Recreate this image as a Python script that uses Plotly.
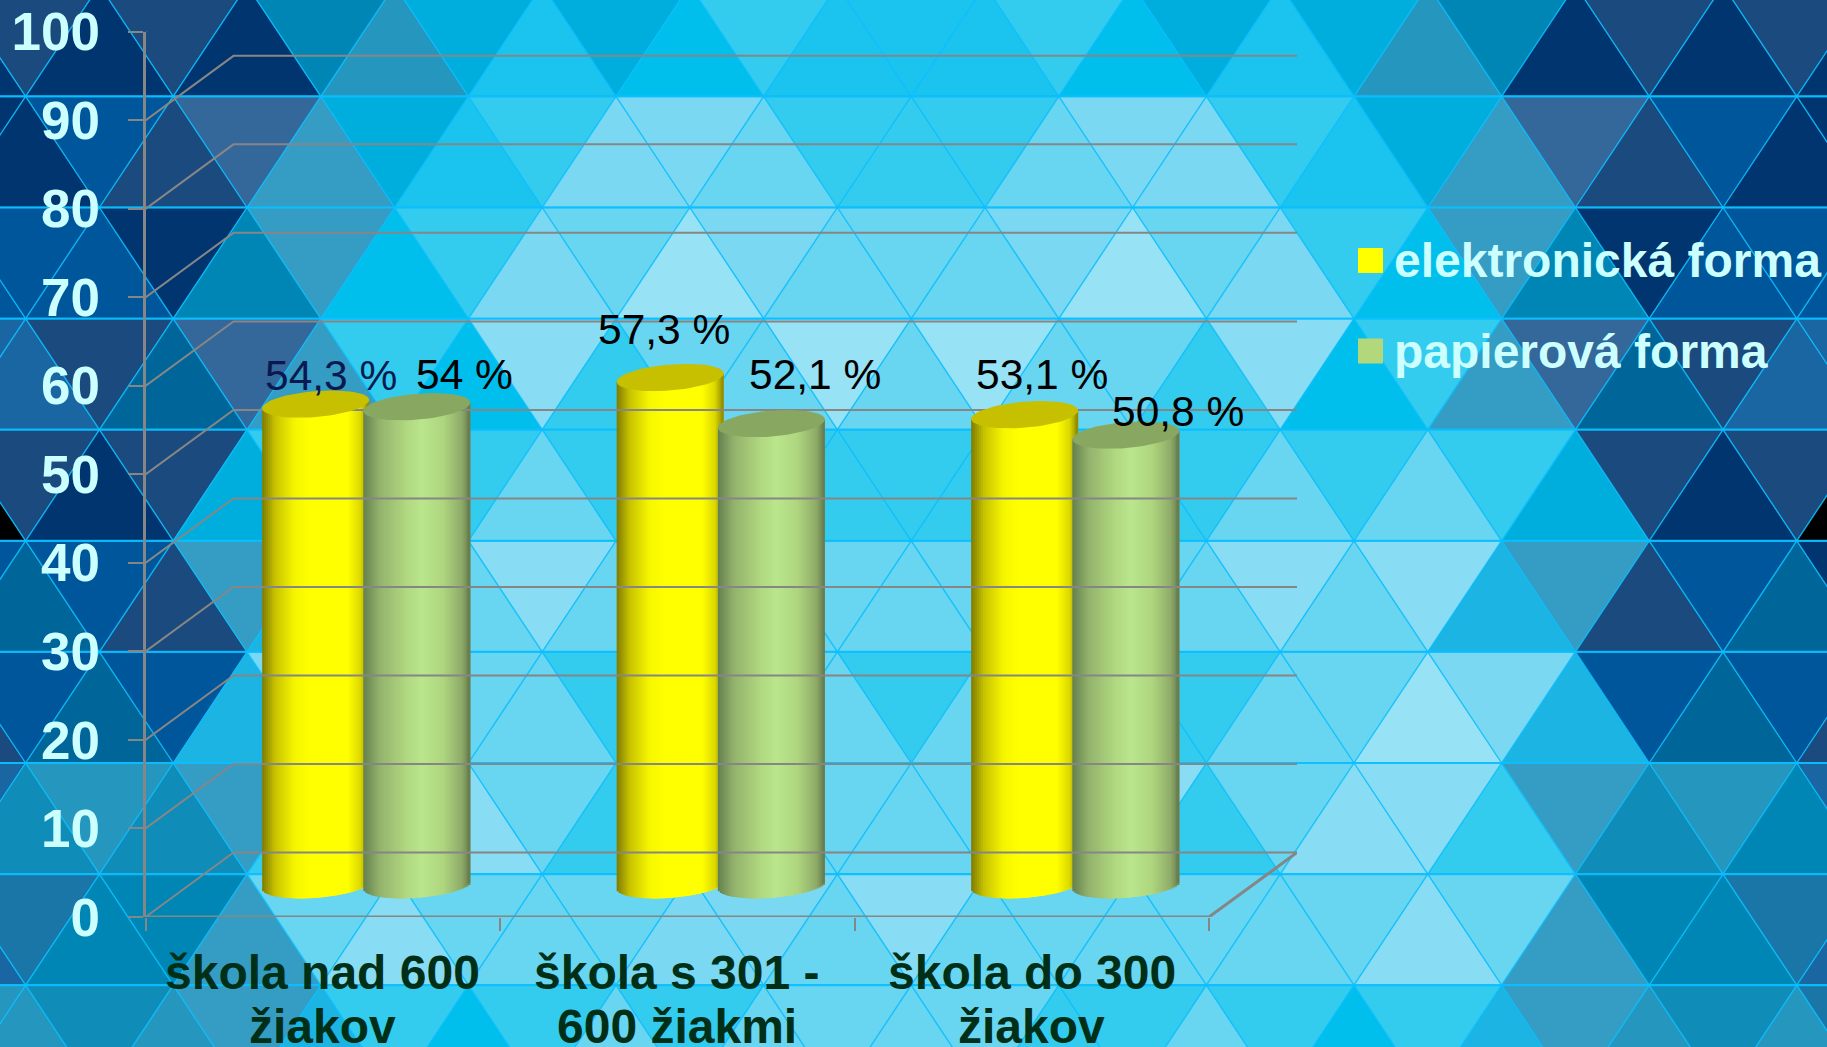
import plotly.graph_objects as go
import math

W, H = 1827, 1047

# ---------- data ----------
categories = ["škola nad 600 žiakov", "škola s 301 - 600 žiakmi", "škola do 300 žiakov"]
category_lines = [["škola nad 600", "žiakov"], ["škola s 301 -", "600 žiakmi"], ["škola do 300", "žiakov"]]
series_names = ["elektronická forma", "papierová forma"]
elektronicka = [54.3, 57.3, 53.1]
papierova = [54.0, 52.1, 50.8]
elektronicka_labels = ["54,3 %", "57,3 %", "53,1 %"]
papierova_labels = ["54 %", "52,1 %", "50,8 %"]
y_ticks = [0, 10, 20, 30, 40, 50, 60, 70, 80, 90, 100]

# hand-placed label offsets (px) from category centre / value position
elektronicka_shift_x = [8, -13, 10]
elektronicka_shift_y = [61, 80, 72]
papierova_shift_x = [142, 138, 146]
papierova_shift_y = [64, 81, 56]
elektronicka_label_colors = ["#0a1a50", "#000000", "#000000"]
papierova_label_colors = ["#000000", "#000000", "#000000"]

# ---------- background mosaic (one letter per triangle, one string per band) ----------
palette = {
    "a": "#00356f", "b": "#1b4a7e", "c": "#00569a", "d": "#34679a", "e": "#006699",
    "f": "#0086b5", "F": "#0f8cb8", "g": "#1a66a3", "h": "#359cc3", "i": "#2597bf",
    "j": "#00aedd", "q": "#1cb4e2", "k": "#1ac4ee", "l": "#00bfec", "m": "#33ccee",
    "n": "#68d5f1", "O": "#7ad8f3", "o": "#88dcf3", "p": "#98e2f6", "s": "#000000",
    "t": "#1a76a6",
}
mosaic = [
    "ababafijkjlmkkkmljkjifababa",
    "aacbdhjkmOOnmmmnOOmkjhdbcaa",
    "cccafhlmOnpOnnnOpnOmlhfaccc",
    "ggbedhmlomnnpnpnnmolmhdebgg",
    "sbabjmnmnmmmmmmmmmnmnmjbabs",
    "cecbhqononnnnnnnnnonoqhbcea",
    "bcecqOpnnmmnnmnnmmnnpOqcecb",
    "gFiFhmoonmonnnnnomnoomhFifg",
    "gtffhnonnnOOnonnnnnnonhfftg",
    "iiFihqmlmnmnnnnmmnmlmqhiFit",
]
TRI_W, TRI_H, TRI_X0, TRI_Y0 = 147.6, 111.1, 25.7, -14.7


def px(x):
    return x / W


def py(y):
    return 1 - y / H


shapes = []
for r, row in enumerate(mosaic):
    top = TRI_Y0 + r * TRI_H
    bot = top + TRI_H
    for j, ch in enumerate(row):
        m = j - 1
        xc = TRI_X0 + m * TRI_W / 2
        if (m + r) % 2 != 0:
            pts = [(xc, top), (xc - TRI_W / 2, bot), (xc + TRI_W / 2, bot)]
        else:
            pts = [(xc, bot), (xc - TRI_W / 2, top), (xc + TRI_W / 2, top)]
        path = "M" + " L".join(f"{px(a):.5f},{py(b):.5f}" for a, b in pts) + " Z"
        shapes.append(dict(type="path", path=path, xref="paper", yref="paper", layer="below",
                           fillcolor=palette[ch],
                           line=dict(color="rgba(10,190,255,0.8)", width=1.3)))
for r in range(1, len(mosaic)):
    y = TRI_Y0 + r * TRI_H
    shapes.append(dict(type="line", xref="paper", yref="paper", layer="below",
                       x0=0, x1=1, y0=py(y), y1=py(y),
                       line=dict(color="rgba(10,190,255,0.85)", width=2.2)))

# ---------- geometry constants of the 3-D look ----------
PLOT_L, PLOT_R, PLOT_T, PLOT_B = 145.5, 1209.0, 31.8, 917.0
CAT_PX = (PLOT_R - PLOT_L) / 3
UNIT_PX = (PLOT_B - PLOT_T) / 100
WALL_PX = 88.0
WALL_DX = WALL_PX / CAT_PX
WALL_DY = 64.5 / UNIT_PX
MID_DX = 43.5 / CAT_PX
MID_DY = 32.25 / UNIT_PX
BAR_OFF = 50.6 / CAT_PX
BAR_HALF = 53.5 / CAT_PX
CAP_B = 13.0 / UNIT_PX
CAP_TILT = 4.2 / UNIT_PX
N_STRIPS = 54
GRID = "#868686"


def hex2rgb(h):
    return tuple(int(h[i:i + 2], 16) for i in (1, 3, 5))


def shade(stops, t):
    for (p0, c0), (p1, c1) in zip(stops, stops[1:]):
        if p0 <= t <= p1:
            f = (t - p0) / (p1 - p0)
            a, b = hex2rgb(c0), hex2rgb(c1)
            return "rgb(%d,%d,%d)" % tuple(round(a[i] + (b[i] - a[i]) * f) for i in range(3))
    return stops[-1][1]


yellow_stops = [(0, "#807a00"), (.12, "#c7c200"), (.3, "#f5f500"), (.45, "#ffff00"),
                (.8, "#ffff00"), (.92, "#dcd800"), (1, "#8a8400")]
green_stops = [(0, "#64804f"), (.15, "#93b26c"), (.4, "#b0d880"), (.55, "#b9e68c"),
               (.75, "#aed57e"), (.92, "#8eab68"), (1, "#64784c")]

fig = go.Figure()

# back wall grid + floor links
for v in y_ticks:
    fig.add_trace(go.Scatter(x=[-0.5, -0.5 + WALL_DX, 2.5 + WALL_DX], y=[v, v + WALL_DY, v + WALL_DY],
                             mode="lines", line=dict(color=GRID, width=2), cliponaxis=False,
                             showlegend=False, hoverinfo="skip"))
fig.add_trace(go.Scatter(x=[-0.5, 2.5, 2.5 + WALL_DX], y=[0, 0, WALL_DY], mode="lines",
                         line=dict(color=GRID, width=3), cliponaxis=False,
                         showlegend=False, hoverinfo="skip"))

xs = [0, 1, 2]
for values, side, stops, cap_color in [
    (elektronicka, -1, yellow_stops, "#c6c000"),
    (papierova, 1, green_stops, "#88a862"),
]:
    dw = 2 * BAR_HALF / N_STRIPS
    for s in range(N_STRIPS):
        t0 = (s + 0.5) / N_STRIPS
        t = 2 * t0 - 1
        drop = CAP_B * math.sqrt(max(0, 1 - t * t))
        base = MID_DY + CAP_TILT * t - drop
        # every strip but the last reaches under its neighbour, so no background shows between them
        fig.add_trace(go.Bar(x=xs, y=[v + drop for v in values], base=base,
                             width=dw * (2 if s < N_STRIPS - 1 else 1),
                             offset=MID_DX + side * BAR_OFF + t * BAR_HALF - dw / 2,
                             marker=dict(color=shade(stops, t0), opacity=1, line=dict(width=0)),
                             opacity=1, cliponaxis=False, showlegend=False, hoverinfo="skip"))
    # top caps
    cx, cy = [], []
    for i, v in zip(xs, values):
        c = i + MID_DX + side * BAR_OFF
        for k in range(73):
            a = 2 * math.pi * k / 72
            t = math.cos(a)
            cx.append(c + BAR_HALF * t)
            cy.append(v + MID_DY + CAP_TILT * t + CAP_B * math.sin(a))
        cx.append(None)
        cy.append(None)
    fig.add_trace(go.Scatter(x=cx, y=cy, mode="lines", fill="toself", fillcolor=cap_color,
                             line=dict(width=0, color=cap_color), cliponaxis=False,
                             showlegend=False, hoverinfo="skip"))

annotations = []
LABEL_FONT = dict(family="Liberation Sans", size=42.5)
for values, labels, sx, sy, cols in [
    (elektronicka, elektronicka_labels, elektronicka_shift_x, elektronicka_shift_y, elektronicka_label_colors),
    (papierova, papierova_labels, papierova_shift_x, papierova_shift_y, papierova_label_colors),
]:
    for i in xs:
        annotations.append(dict(x=i, y=values[i], xref="x", yref="y", text=labels[i], showarrow=False,
                                xshift=sx[i], yshift=sy[i], xanchor="center", yanchor="middle",
                                font=dict(color=cols[i], **LABEL_FONT)))

# category labels (two lines, tight leading)
for i, lines in enumerate(category_lines):
    for ln, pos in zip(lines, (972, 1026)):
        annotations.append(dict(x=i, y=py(pos), xref="x", yref="paper", text=ln, showarrow=False,
                                xanchor="center", yanchor="middle",
                                font=dict(family="Liberation Sans", size=48, color="#002f17", weight="bold")))

# legend
for name, color, cy in zip(series_names, ["#ffff00", "#b2d87b"], [260.5, 351.0]):
    shapes.append(dict(type="rect", xref="paper", yref="paper", layer="above",
                       x0=px(1358), x1=px(1383), y0=py(cy - 12.5), y1=py(cy + 12.5),
                       fillcolor=color, line=dict(width=0)))
    annotations.append(dict(x=px(1392), y=py(cy), xref="paper", yref="paper", text=name, showarrow=False,
                            xanchor="left", yanchor="middle",
                            font=dict(family="Liberation Sans", size=48, color="#ccffff", weight="bold")))

fig.update_layout(
    width=W, height=H, margin=dict(l=0, r=0, t=0, b=0, autoexpand=False),
    paper_bgcolor="rgba(0,0,0,0)", plot_bgcolor="rgba(0,0,0,0)",
    barmode="overlay", showlegend=False, shapes=shapes, annotations=annotations,
    xaxis=dict(domain=[PLOT_L / W, (PLOT_R + WALL_PX) / W], range=[-0.5, 2.5 + WALL_DX], tickmode="array",
               tickvals=[-0.5, 0.5, 1.5, 2.5], ticks="outside", ticklen=13, tickwidth=2,
               tickcolor=GRID, showticklabels=False, showline=False,
               showgrid=False, zeroline=False, fixedrange=True),
    yaxis=dict(domain=[1 - PLOT_B / H, 1 - PLOT_T / H], range=[0, 100], tickmode="array",
               tickvals=y_ticks, ticktext=[str(v) for v in y_ticks], ticks="outside", ticklen=15,
               tickwidth=2, tickcolor=GRID, showline=True, linecolor=GRID, linewidth=3,
               ticklabelstandoff=17,
               tickfont=dict(family="Liberation Sans", size=53, color="#ccffff", weight="bold"),
               showgrid=False, zeroline=False, fixedrange=True),
)

fig.write_html("out.html", config=dict(displayModeBar=False),
               post_script="document.body.style.margin='0';document.body.style.overflow='hidden';")
